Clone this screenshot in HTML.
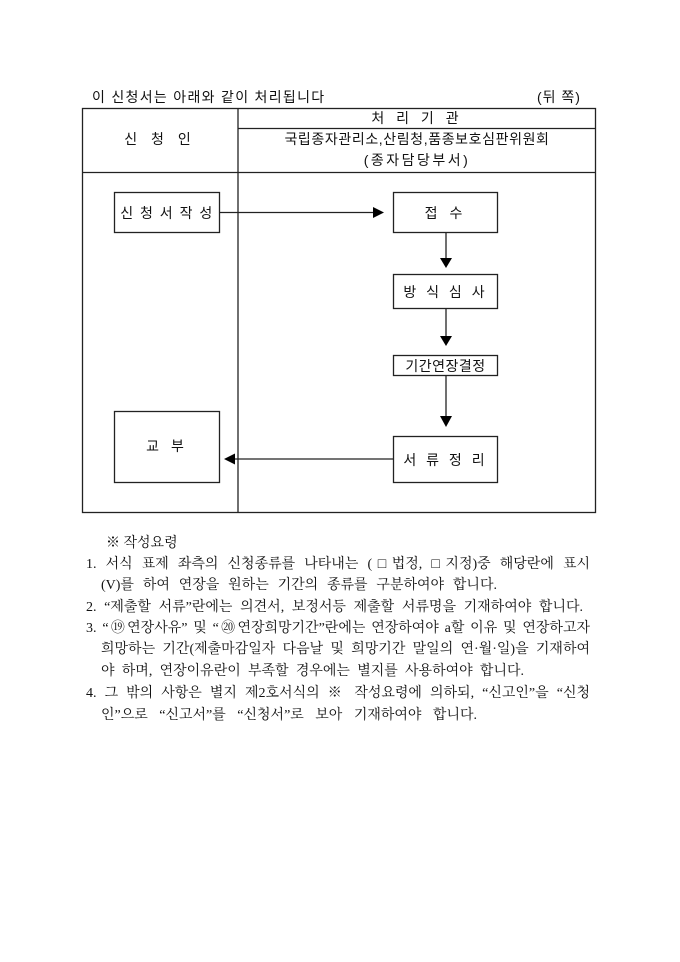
<!DOCTYPE html>
<html><head><meta charset="utf-8"><style>
body{margin:0;background:#fff;width:680px;height:962px;position:relative;overflow:hidden;font-family:"Liberation Sans","Noto Sans CJK KR",sans-serif;color:#111}
.t{position:absolute;white-space:nowrap;font-size:13px;line-height:16px}
.c{text-align:center}
.n{position:absolute;white-space:nowrap;font-size:14px;line-height:18px;font-family:"Liberation Serif","Noto Serif CJK SC",serif;text-align:justify;text-align-last:justify}
</style></head><body>
<svg width="680" height="962" style="position:absolute;left:0;top:0">
<g stroke="#222" stroke-width="1.3" fill="none">
<rect x="82.5" y="108.5" width="513" height="404"/>
<line x1="238" y1="108" x2="238" y2="512"/>
<line x1="238" y1="128.5" x2="596" y2="128.5"/>
<line x1="82" y1="172.5" x2="596" y2="172.5"/>
<rect x="114.5" y="192.5" width="105" height="40"/>
<rect x="393.5" y="192.5" width="104" height="40"/>
<rect x="393.5" y="274.5" width="104" height="34"/>
<rect x="393.5" y="355.5" width="104" height="20"/>
<rect x="393.5" y="436.5" width="104" height="46"/>
<rect x="114.5" y="411.5" width="105" height="71"/>
<line x1="220" y1="212.5" x2="375" y2="212.5"/>
<line x1="446" y1="233" x2="446" y2="258"/>
<line x1="446" y1="309" x2="446" y2="336"/>
<line x1="446" y1="376" x2="446" y2="416"/>
<line x1="233" y1="459" x2="393" y2="459"/>
</g>
<g fill="#000">
<polygon points="373,207 384,212.5 373,218"/>
<polygon points="440,258 452,258 446,268"/>
<polygon points="440,336 452,336 446,346"/>
<polygon points="440,416 452,416 446,427"/>
<polygon points="235,453.5 224,459 235,464.5"/>
</g>
</svg>
<div class="t" style="left:92px;top:89px;font-size:14px;letter-spacing:1.3px">이 신청서는 아래와 같이 처리됩니다</div>
<div class="t" style="left:537px;top:89px;font-size:14px;letter-spacing:1px">(뒤 쪽)</div>
<div class="t c" style="left:82px;width:156px;top:131px;letter-spacing:5px;font-size:14px">신 청 인</div>
<div class="t c" style="left:238px;width:358px;top:110px;letter-spacing:4px;font-size:14px">처 리 기 관</div>
<div class="t c" style="left:238px;width:358px;top:131px;font-size:14px;letter-spacing:0.6px">국립종자관리소,산림청,품종보호심판위원회</div>
<div class="t c" style="left:238px;width:358px;top:152px;font-size:14px;letter-spacing:2.5px">(종자담당부서)</div>
<div class="t c" style="left:114px;width:106px;top:205px;letter-spacing:1.5px;font-size:14px">신 청 서 작 성</div>
<div class="t c" style="left:393px;width:105px;top:205px;letter-spacing:4px;font-size:14px">접 수</div>
<div class="t c" style="left:393px;width:105px;top:284px;letter-spacing:3px;font-size:14px">방 식 심 사</div>
<div class="t c" style="left:393px;width:105px;top:358px;letter-spacing:0.5px;font-size:14px">기간연장결정</div>
<div class="t c" style="left:393px;width:105px;top:452px;letter-spacing:3px;font-size:14px">서 류 정 리</div>
<div class="t c" style="left:114px;width:106px;top:438px;letter-spacing:4px;font-size:14px">교 부</div>
<div class="n" style="left:106px;top:535px;text-align-last:left">※ 작성요령</div>
<div class="n" style="left:86px;width:504px;top:556px">1. 서식 표제 좌측의 신청종류를 나타내는 (□법정, □지정)중 해당란에 표시</div>
<div class="n" style="left:101px;width:396px;top:577px">(V)를 하여 연장을 원하는 기간의 종류를 구분하여야 합니다.</div>
<div class="n" style="left:86px;width:497px;top:599px">2. “제출할 서류”란에는 의견서, 보정서등 제출할 서류명을 기재하여야 합니다.</div>
<div class="n" style="left:86px;width:504px;top:620px">3. “⑲연장사유” 및 “⑳연장희망기간”란에는 연장하여야 a할 이유 및 연장하고자</div>
<div class="n" style="left:101px;width:489px;top:641px">희망하는 기간(제출마감일자 다음날 및 희망기간 말일의 연·월·일)을 기재하여</div>
<div class="n" style="left:101px;width:423px;top:663px">야 하며, 연장이유란이 부족할 경우에는 별지를 사용하여야 합니다.</div>
<div class="n" style="left:86px;width:504px;top:685px">4. 그 밖의 사항은 별지 제2호서식의 ※ 작성요령에 의하되, “신고인”을 “신청</div>
<div class="n" style="left:101px;width:376px;top:707px">인”으로 “신고서”를 “신청서”로 보아 기재하여야 합니다.</div>
</body></html>
